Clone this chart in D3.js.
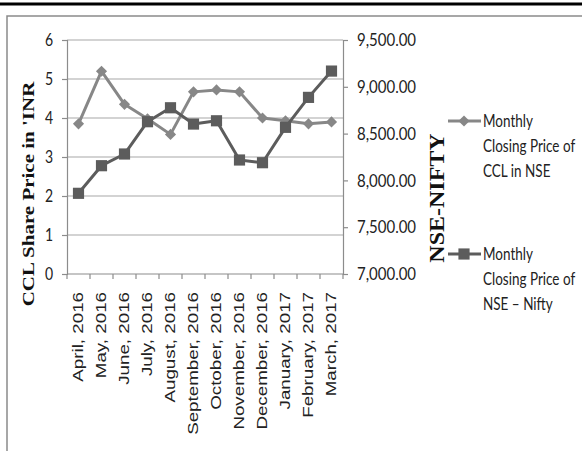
<!DOCTYPE html>
<html>
<head>
<meta charset="utf-8">
<script src="https://cdn.jsdelivr.net/npm/d3@7"></script>
<style>
  body { margin: 0; background: #fff; }
  svg { display: block; }
</style>
</head>
<body>
<svg id="chart" width="582" height="451"></svg>
<script>

var months = ["April, 2016", "May, 2016", "June, 2016", "July, 2016", "August, 2016",
  "September, 2016", "October, 2016", "November, 2016", "December, 2016",
  "January, 2017", "February, 2017", "March, 2017"];
var cclPrice = [3.85, 5.2, 4.35, 3.98, 3.58, 4.67, 4.72, 4.67, 4.0, 3.93, 3.85, 3.9];
var niftyClose = [7862, 8157, 8282, 8627, 8776, 8602, 8637, 8218, 8189, 8567, 8887, 9168];
var leftTicks = [0, 1, 2, 3, 4, 5, 6];
var rightTicks = [7000, 7500, 8000, 8500, 9000, 9500];
var cclLegend = ["Monthly", "Closing Price of", "CCL in NSE"];
var niftyLegend = ["Monthly", "Closing Price of", "NSE \u2013 Nifty"];

var stretch = 1.2;   // text in the picture is a bit taller than it is wide
var cclColor = '#878787', niftyColor = '#5c5c5c';

var svg = d3.select('#chart');

// page rules / frame
svg.append('line').attr('x1', 0).attr('x2', 582).attr('y1', 4).attr('y2', 4)
  .attr('stroke', '#000').attr('stroke-width', 3);
svg.append('path').attr('d', 'M7,451V16H582')
  .attr('fill', 'none').attr('stroke', '#8a8a8a').attr('stroke-width', 1.5);

var x = d3.scaleBand().domain(months).range([67, 343]);
var yL = d3.scaleLinear().domain([0, 6]).range([274, 40]);
var yR = d3.scaleLinear().domain([7000, 9500]).range([274, 40]);
var cx = function(i) { return x(months[i]) + x.bandwidth() / 2; };

// gridlines
svg.append('g').selectAll('line').data(leftTicks.slice(1)).enter().append('line')
  .attr('x1', 67).attr('x2', 343)
  .attr('y1', function(d) { return yL(d); }).attr('y2', function(d) { return yL(d); })
  .attr('stroke', '#a8a8a8').attr('stroke-width', 1.2);

// left axis
var gL = svg.append('g').attr('transform', 'translate(67,0)')
  .call(d3.axisLeft(yL).tickValues(leftTicks).tickSize(5).tickPadding(9).tickFormat(d3.format('d')));
gL.selectAll('text').attr('font-family', 'Lato').attr('font-size', 14).attr('fill', '#222')
  .attr('transform', 'scale(1,' + stretch + ')');

// right axis
var gR = svg.append('g').attr('transform', 'translate(343,0)')
  .call(d3.axisRight(yR).tickValues(rightTicks).tickSize(5).tickPadding(9)
    .tickFormat(d3.format(',.2f')));
gR.selectAll('text').attr('font-family', 'Lato').attr('font-size', 15).attr('fill', '#222')
  .attr('transform', 'scale(1,' + stretch + ')');

svg.selectAll('.domain, .tick line').attr('stroke', '#8c8c8c').attr('stroke-width', 1.2);

// bottom axis: ticks between categories
svg.append('line').attr('x1', 67).attr('x2', 343).attr('y1', 274).attr('y2', 274)
  .attr('stroke', '#8c8c8c').attr('stroke-width', 1.2);
svg.append('g').selectAll('line').data(months.map(function(m) { return x(m); }).concat([343]))
  .enter().append('line')
  .attr('x1', function(d) { return d; }).attr('x2', function(d) { return d; })
  .attr('y1', 274).attr('y2', 279)
  .attr('stroke', '#8c8c8c').attr('stroke-width', 1.2);
svg.append('g').selectAll('text').data(months).enter().append('text')
  .attr('transform', function(d, i) { return 'translate(' + cx(i) + ',292) rotate(-90) scale(1.34,1)'; })
  .attr('dy', '0.35em').attr('text-anchor', 'end')
  .attr('font-family', 'Liberation Sans').attr('font-size', 14).attr('fill', '#222')
  .text(function(d) { return d; });

// axis titles
svg.append('text').attr('transform', 'translate(34,194) rotate(-90) scale(' + stretch + ',1)')
  .attr('text-anchor', 'middle').attr('font-family', 'Liberation Serif').attr('font-weight', 'bold')
  .attr('font-size', 17.5).attr('fill', '#111').text("CCL Share Price in 'INR");
svg.append('text').attr('transform', 'translate(444,198) rotate(-90) scale(' + stretch + ',1)')
  .attr('text-anchor', 'middle').attr('font-family', 'Liberation Serif').attr('font-weight', 'bold')
  .attr('font-size', 20).attr('fill', '#111').text('NSE-NIFTY');

// series
var lineL = d3.line().x(function(d, i) { return cx(i); }).y(function(d) { return yL(d); });
var lineR = d3.line().x(function(d, i) { return cx(i); }).y(function(d) { return yR(d); });
var diamond = d3.symbol().type(d3.symbolSquare).size(62);
var square = d3.symbol().type(d3.symbolSquare).size(125);

svg.append('path').datum(cclPrice).attr('d', lineL)
  .attr('fill', 'none').attr('stroke', cclColor).attr('stroke-width', 3).attr('stroke-linejoin', 'round');
svg.append('g').selectAll('path').data(cclPrice).enter().append('path')
  .attr('d', diamond).attr('fill', cclColor)
  .attr('transform', function(d, i) { return 'translate(' + cx(i) + ',' + yL(d) + ') rotate(45)'; });

svg.append('path').datum(niftyClose).attr('d', lineR)
  .attr('fill', 'none').attr('stroke', niftyColor).attr('stroke-width', 3).attr('stroke-linejoin', 'round');
svg.append('g').selectAll('path').data(niftyClose).enter().append('path')
  .attr('d', square).attr('fill', niftyColor)
  .attr('transform', function(d, i) { return 'translate(' + cx(i) + ',' + yR(d) + ')'; });

// legend
function legendItem(y, color, marker, rot, lines) {
  svg.append('line').attr('x1', 448).attr('x2', 481).attr('y1', y).attr('y2', y)
    .attr('stroke', color).attr('stroke-width', 3);
  svg.append('path').attr('d', marker).attr('fill', color)
    .attr('transform', 'translate(464,' + y + ') rotate(' + rot + ')');
  svg.append('g').selectAll('text').data(lines).enter().append('text')
    .attr('transform', function(d, i) { return 'translate(483,' + (y + i * 25) + ') scale(1,1.3)'; })
    .attr('dy', '0.35em').attr('font-family', 'Lato').attr('font-size', 13.5).attr('fill', '#222')
    .text(function(d) { return d; });
}
legendItem(121, cclColor, diamond, 45, cclLegend);
legendItem(254, niftyColor, square, 0, niftyLegend);

</script>
</body>
</html>
